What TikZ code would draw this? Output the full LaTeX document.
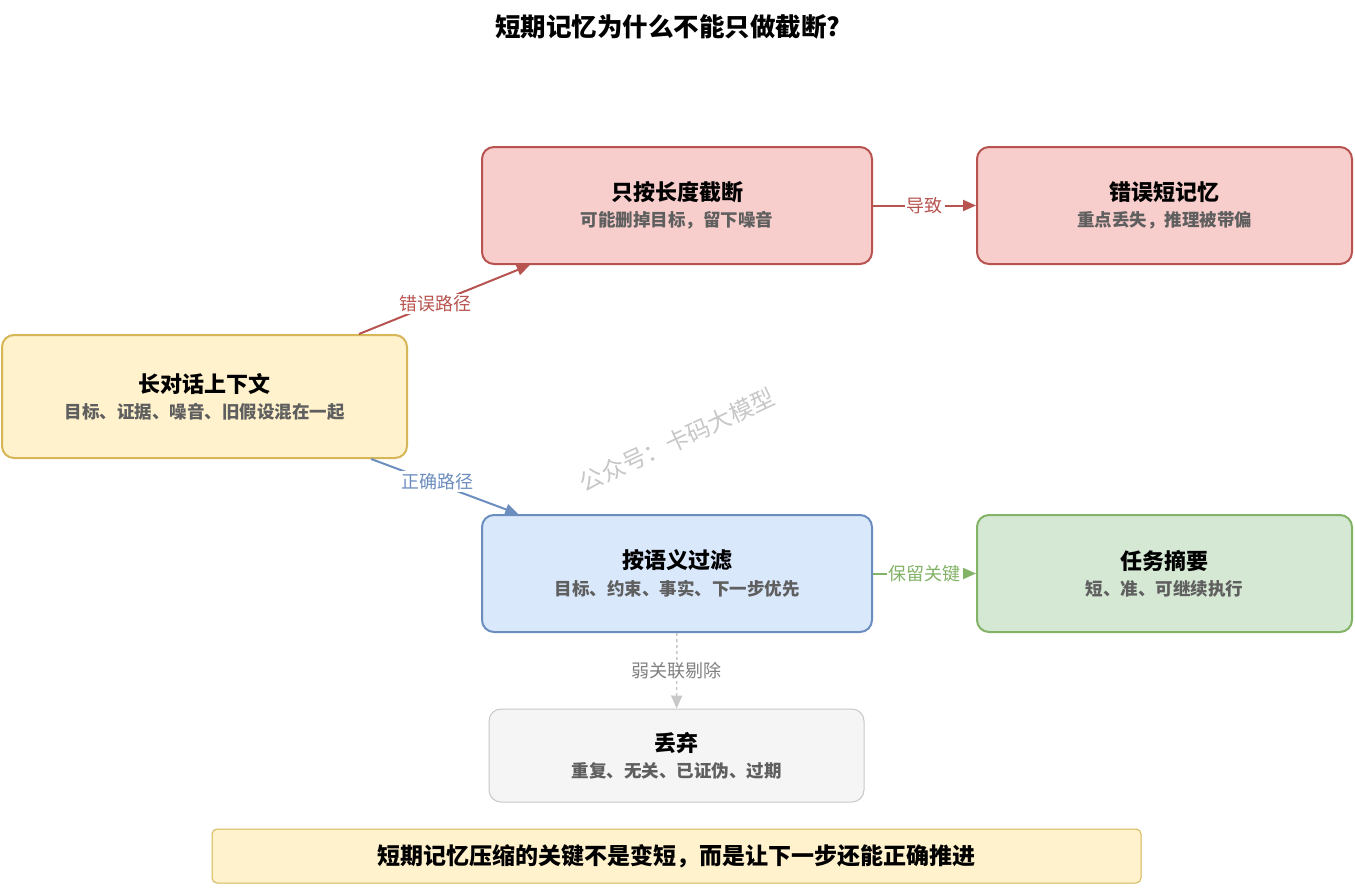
\documentclass[tikz,border=0pt]{standalone}
\usepackage{fontspec}
\setmainfont{Noto Sans CJK SC}
\usetikzlibrary{positioning,calc,arrows.meta}
\tikzset{>={Triangle[length=13pt,width=11pt]}}
\definecolor{ylwF}{HTML}{FFF2CC}\definecolor{ylwD}{HTML}{D6B656}
\definecolor{redF}{HTML}{F8CECC}\definecolor{redD}{HTML}{B85450}
\definecolor{bluF}{HTML}{DAE8FC}\definecolor{bluD}{HTML}{6C8EBF}
\definecolor{grnF}{HTML}{D5E8D4}\definecolor{grnD}{HTML}{82B366}
\definecolor{gryF}{HTML}{F5F5F5}\definecolor{gryD}{HTML}{C8C8C8}
\definecolor{subT}{HTML}{5F5F5F}
\tikzset{
  box/.style={draw,line width=2pt,rounded corners=12pt,minimum width=#1,minimum height=117pt},
  ttl/.style={font=\fontsize{22}{24}\selectfont\bfseries},
  sub/.style={font=\fontsize{17.5}{19}\selectfont\bfseries,text=subT},
  lbl/.style={fill=white,font=\fontsize{18}{20}\selectfont,inner sep=2pt}
}
\newcommand{\boxtext}[3]{%
  \node[ttl] at ([yshift=13pt]#1.center) {#2};
  \node[sub] at ([yshift=-15pt]#1.center) {#3};}

\begin{document}
\begin{tikzpicture}[x=1pt,y=-1pt]
\useasboundingbox[fill=white] (0,0) rectangle (1355,887);
\node[font=\fontsize{25.5}{27}\selectfont\bfseries] (title) at (668,27) {短期记忆为什么不能只做截断?};
% boxes
\node[box=405pt,minimum height=123pt,fill=ylwF,draw=ylwD] (ctx) at (204.5,396.5) {};
\node[box=390pt,fill=redF,draw=redD] (trunc) at (677,205.5) {};
\node[box=375pt,fill=redF,draw=redD] (wrong) at (1164.5,205.5) {};
\node[box=390pt,fill=bluF,draw=bluD] (filt) at (677,573.5) {};
\node[box=375pt,fill=grnF,draw=grnD] (task) at (1164.5,573.5) {};
\node[box=375pt,minimum height=93pt,line width=1pt,fill=gryF,draw=gryD] (drop) at (676.5,755.5) {};
\boxtext{ctx}{长对话上下文}{目标、证据、噪音、旧假设混在一起}
\boxtext{trunc}{只按长度截断}{可能删掉目标，留下噪音}
\boxtext{wrong}{错误短记忆}{重点丢失，推理被带偏}
\boxtext{filt}{按语义过滤}{目标、约束、事实、下一步优先}
\boxtext{task}{任务摘要}{短、准、可继续执行}
\boxtext{drop}{丢弃}{重复、无关、已证伪、过期}
% connectors
\draw[->,line width=2pt,draw=redD] (ctx) -- node[lbl,text=redD,pos=0.45,yshift=-1pt] {错误路径} (trunc);
\draw[->,line width=2pt,draw=bluD] (ctx) -- node[lbl,text=bluD,pos=0.45,yshift=2pt] {正确路径} (filt);
\draw[->,line width=2pt,draw=redD] (trunc) -- node[lbl,text=redD] {导致} (wrong);
\draw[->,line width=2pt,draw=grnD] (filt) -- node[lbl,text=grnD] {保留关键} (task);
\draw[->,line width=1.5pt,draw=gryD,dashed] (filt) -- node[lbl,text=gray] {弱关联剔除} (drop);
% watermark
\node[rotate=25,text=black!22,font=\fontsize{23.5}{25}\selectfont] (mark) at (677,440) {公众号：卡码大模型};
% note
\node[draw=ylwD,fill=ylwF,line width=1pt,rounded corners=5pt,minimum width=929pt,minimum height=54pt,
  font=\fontsize{23}{25}\selectfont\bfseries] (note) at (676.5,856) {短期记忆压缩的关键不是变短，而是让下一步还能正确推进};
\end{tikzpicture}
\end{document}
